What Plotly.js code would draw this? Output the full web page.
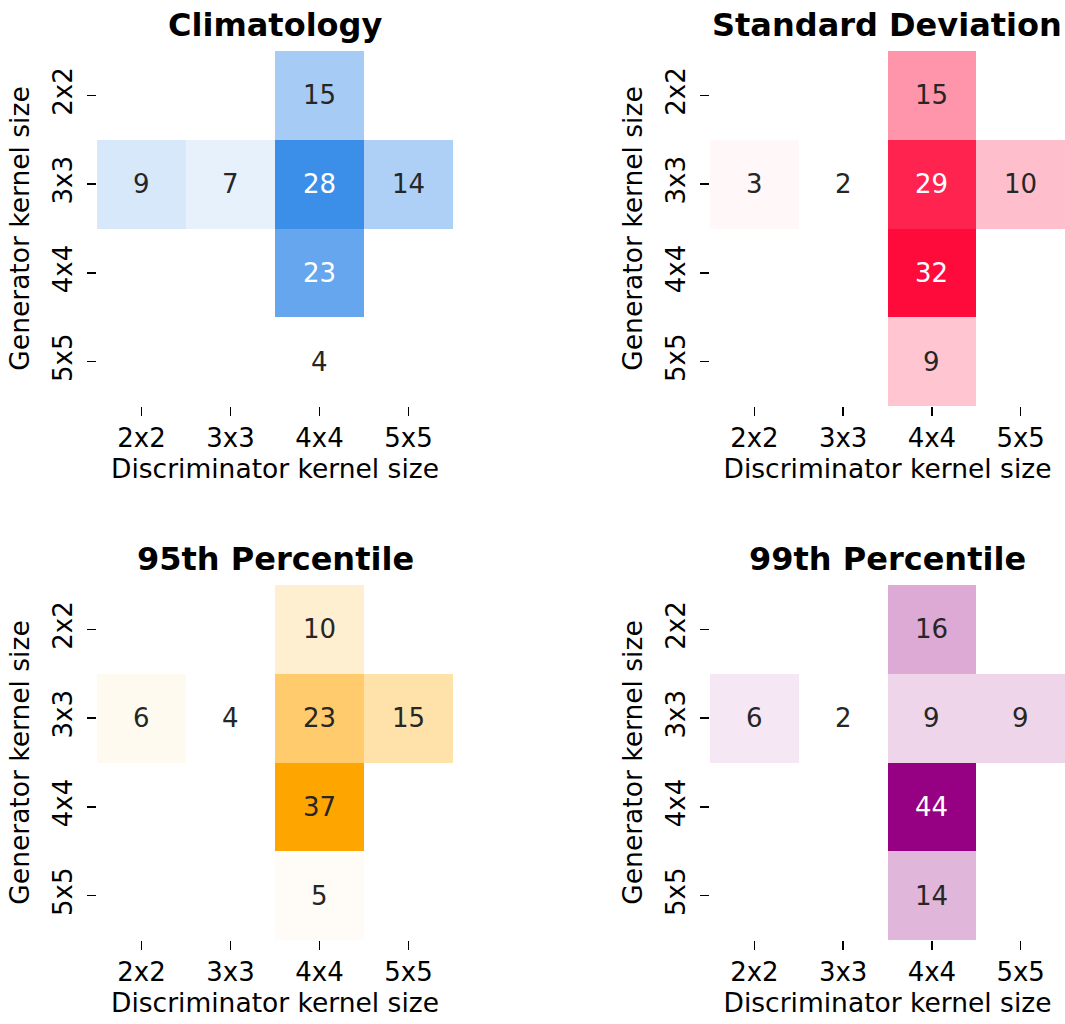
<!DOCTYPE html>
<html><head><meta charset="utf-8">
<script src="https://cdn.plot.ly/plotly-3.0.1.min.js"></script>
<style>html,body{margin:0;padding:0;background:#fff}</style>
</head><body><div id="chart" style="width:1065px;height:1024px"></div>
<script>
// ---- data ----
const discKernels = ['2x2', '3x3', '4x4', '5x5'];   // x categories
const genKernels = ['2x2', '3x3', '4x4', '5x5'];    // y categories
const climatology = [[null, null, 15, null], [9, 7, 28, 14], [null, null, 23, null], [null, null, 4, null]];
const stdDeviation = [[null, null, 15, null], [3, 2, 29, 10], [null, null, 32, null], [null, null, 9, null]];
const percentile95 = [[null, null, 10, null], [6, 4, 23, 15], [null, null, 37, null], [null, null, 5, null]];
const percentile99 = [[null, null, 16, null], [6, 2, 9, 9], [null, null, 44, null], [null, null, 14, null]];
const panelTitles = ['Climatology', 'Standard Deviation', '95th Percentile', '99th Percentile'];
const xTitle = 'Discriminator kernel size';
const yTitle = 'Generator kernel size';

// ---- styling ----
const panelData = [climatology, stdDeviation, percentile95, percentile99];
const panelColors = ['#3c8fe9', '#ff0b3b', '#ffa500', '#960082'];
const FONT = 'DejaVu Sans, Liberation Sans, sans-serif';
const W = 1065, H = 1024;
const colPx = [[97, 453], [710, 1065]];
const rowPx = [[51, 406], [585, 940]];

function hexToRgb(h) { h = h.replace('#', ''); return [0, 2, 4].map(i => parseInt(h.substr(i, 2), 16)); }
function lum(rgb) {
  const c = rgb.map(v => { v /= 255; return v <= 0.03928 ? v / 12.92 : Math.pow((v + 0.055) / 1.055, 2.4); });
  return 0.2126 * c[0] + 0.7152 * c[1] + 0.0722 * c[2];
}

const traces = [], annotations = [], layout = {
  width: W, height: H, paper_bgcolor: '#fff', plot_bgcolor: 'rgba(0,0,0,0)',
  margin: { l: 0, r: 0, t: 0, b: 0, autoexpand: false }, showlegend: false,
  font: { family: FONT, color: '#000' }
};

panelData.forEach((z, k) => {
  const r = Math.floor(k / 2), c = k % 2;
  const sfx = k === 0 ? '' : String(k + 1);
  const vals = z.flat().filter(v => v !== null);
  const zmin = Math.min(...vals), zmax = Math.max(...vals);
  const col = hexToRgb(panelColors[k]);
  traces.push({
    type: 'heatmap', x: discKernels, y: genKernels, z: z,
    xaxis: 'x' + sfx, yaxis: 'y' + sfx,
    zmin: zmin, zmax: zmax,
    colorscale: [[0, '#ffffff'], [1, panelColors[k]]],
    showscale: false, hoverongaps: false
  });
  const xd = [colPx[c][0] / W, colPx[c][1] / W];
  const yd = [1 - rowPx[r][1] / H, 1 - rowPx[r][0] / H];
  const axCommon = {
    type: 'category', showgrid: false, zeroline: false, showline: false,
    ticks: 'outside', ticklen: 9, tickwidth: 1.5, tickcolor: '#000',
    tickfont: { family: FONT, size: 26, color: '#000' }, fixedrange: true
  };
  layout['xaxis' + sfx] = Object.assign({}, axCommon, {
    domain: xd, anchor: 'y' + sfx, range: [-0.5, 3.5],
    categoryorder: 'array', categoryarray: discKernels,
    title: { text: xTitle, font: { family: FONT, size: 26.5, color: '#000' }, standoff: 6 }
  });
  layout['yaxis' + sfx] = Object.assign({}, axCommon, {
    domain: yd, anchor: 'x' + sfx, range: [3.5, -0.5], tickangle: -90,
    ticklabelstandoff: 5,
    categoryorder: 'array', categoryarray: genKernels,
    title: { text: yTitle, font: { family: FONT, size: 26.5, color: '#000' }, standoff: 10 }
  });
  // panel title
  annotations.push({
    xref: 'paper', yref: 'paper', x: (xd[0] + xd[1]) / 2, y: yd[1] + 26 / H,
    xanchor: 'center', yanchor: 'middle', showarrow: false,
    text: '<b>' + panelTitles[k] + '</b>', font: { family: FONT, size: 32, color: '#000' }
  });
  // cell annotations
  z.forEach((row, i) => row.forEach((v, j) => {
    if (v === null) return;
    const t = (v - zmin) / (zmax - zmin);
    const rgb = col.map(ch => 255 + t * (ch - 255));
    annotations.push({
      xref: 'x' + sfx, yref: 'y' + sfx, x: discKernels[j], y: genKernels[i],
      text: String(v), showarrow: false,
      font: { family: FONT, size: 26, color: lum(rgb) > 0.408 ? '#262626' : '#ffffff' }
    });
  }));
});
layout.annotations = annotations;
Plotly.newPlot('chart', traces, layout, { staticPlot: true });
</script></body></html>
